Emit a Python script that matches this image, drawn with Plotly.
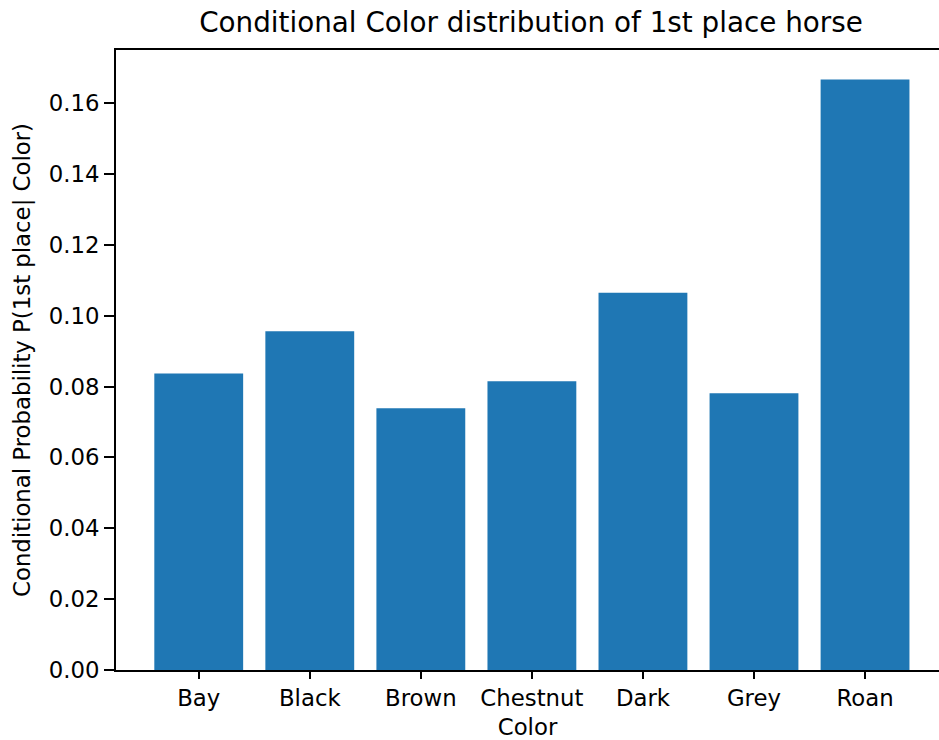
import plotly.graph_objects as go

# Conditional probability of finishing first, by coat colour
colors = ["Bay", "Black", "Brown", "Chestnut", "Dark", "Grey", "Roan"]
probabilities = [0.0837, 0.0956, 0.0739, 0.0815, 0.1065, 0.0781, 0.1667]
y_ticks = [0.00, 0.02, 0.04, 0.06, 0.08, 0.10, 0.12, 0.14, 0.16]

FONT = "DejaVu Sans"
INK = "black"
TICK_SIZE = 22.8
TITLE_SIZE = 27.8
positions = list(range(len(colors)))

fig = go.Figure(
    go.Bar(
        x=positions,
        y=probabilities,
        width=0.8,
        marker=dict(color="#1f77b4", line=dict(width=0)),
        hovertemplate="%{text}: %{y:.4f}<extra></extra>",
        text=colors,
        textposition="none",
    )
)

fig.update_layout(
    width=939,
    height=740,
    margin=dict(l=116, r=0, t=50, b=70, autoexpand=False),
    paper_bgcolor="white",
    plot_bgcolor="white",
    font=dict(family=FONT, size=TICK_SIZE, color=INK),
    showlegend=False,
    title=dict(
        text="Conditional Color distribution of 1st place horse",
        font=dict(family=FONT, size=TITLE_SIZE, color=INK),
        xref="container",
        x=531 / 939,
        xanchor="center",
        yref="container",
        y=1 - 22 / 740,
        yanchor="middle",
    ),
)

axis_style = dict(
    ticks="outside",
    tickwidth=1.7,
    tickcolor=INK,
    showline=True,
    linewidth=1.7,
    linecolor=INK,
    showgrid=False,
    zeroline=False,
    automargin=False,
    tickfont=dict(family=FONT, size=TICK_SIZE, color=INK),
)

fig.update_xaxes(
    range=[-0.745, 6.666],
    tickmode="array",
    tickvals=positions,
    ticktext=colors,
    ticklen=7,
    mirror=True,
    title=dict(text="Color", font=dict(family=FONT, size=TICK_SIZE, color=INK), standoff=11),
    **axis_style,
)

fig.update_yaxes(
    range=[0, 0.175],
    tickmode="array",
    tickvals=y_ticks,
    ticktext=[f"{v:.2f}" for v in y_ticks],
    ticklen=10,
    mirror=False,
    title=dict(
        text="Conditional Probability P(1st place| Color)",
        font=dict(family=FONT, size=TICK_SIZE, color=INK),
        standoff=12,
    ),
    **axis_style,
)

fig.write_html("out.html")
